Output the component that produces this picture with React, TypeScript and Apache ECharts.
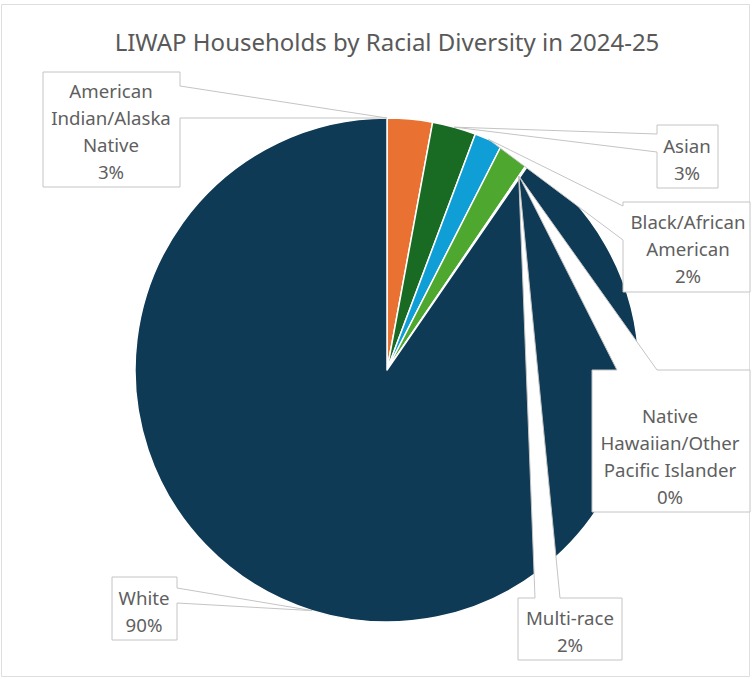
import React, { useEffect, useRef } from "react";
import * as echarts from "echarts";

const TITLE = "LIWAP Households by Racial Diversity in 2024-25";
const categories = [
  "American Indian/Alaska Native",
  "Asian",
  "Black/African American",
  "Multi-race",
  "Native Hawaiian/Other Pacific Islander",
  "White",
];
const values = [2.9, 2.8, 1.8, 2.0, 0.1, 90.4];
const labelLines = [
  ["American", "Indian/Alaska", "Native"],
  ["Asian"],
  ["Black/African", "American"],
  ["Multi-race"],
  ["Native", "Hawaiian/Other", "Pacific Islander"],
  ["White"],
];
const sliceColors = ["#E97132", "#196B24", "#0F9ED5", "#4EA72E", "#A02B93", "#0E3A55"];

// callout layout (box x, y, w, h; wedge side & base; tip anchor)
const calloutLayout = [
  { box: [43, 72, 137, 115], side: "right", base: [86, 118], tip: "start", tipR: 1.0, tx: 111, ty: 76.5 },
  { box: [657, 125, 61, 63], side: "left", base: [134, 152], tip: "mid", tipR: 1.0, tx: 687, ty: 131.5 },
  { box: [623, 202, 127, 90], side: "left", base: [206, 240], tip: "mid", tipR: 1.0, tx: 688, ty: 207.5 },
  { box: [518, 598, 104, 62], side: "top", base: [535, 560], tip: "end", tipR: 0.93, tx: 570, ty: 603.5 },
  { box: [592, 370, 158, 142], side: "top", base: [617, 657], tip: "mid", tipR: 0.93, tx: 670, ty: 401.5 },
  { box: [112, 577, 65, 63], side: "right", base: [588, 603], tip: "mid", tipR: 1.0, tx: 144, ty: 583.5 },
];

const CENTER: [number, number] = [387, 370];
const RADIUS = 252;
const FONT = '"Noto Sans", "Open Sans", sans-serif';

export default function App() {
  const ref = useRef<HTMLDivElement>(null);
  useEffect(() => {
    if (!ref.current) return;
    const chart = echarts.init(ref.current, undefined, { renderer: "svg" });
    const total = values.reduce((a, b) => a + b, 0);
    chart.setOption({
      animation: false,
      backgroundColor: "#ffffff",
      title: {
        text: TITLE,
        left: 382,
        top: 24,
        textAlign: "center",
        textStyle: { fontFamily: FONT, fontSize: 24, fontWeight: "normal", color: "#595959" },
      },
      series: [
        {
          type: "pie",
          center: CENTER,
          radius: RADIUS,
          startAngle: 90,
          clockwise: true,
          avoidLabelOverlap: false,
          label: { show: false },
          labelLine: { show: false },
          emphasis: { disabled: true },
          itemStyle: { borderColor: "#ffffff", borderWidth: 1.5 },
          data: categories.map((c, i) => ({ name: c, value: values[i], itemStyle: { color: sliceColors[i] } })),
        },
      ],
    });

    // read slice geometry from the library's own pie layout
    let layouts: any[] = [];
    try {
      const data = (chart as any).getModel().getSeriesByIndex(0).getData();
      layouts = categories.map((_, i) => data.getItemLayout(i));
    } catch (e) {
      layouts = [];
    }
    if (!layouts.length || !layouts[0]) {
      let a = -Math.PI / 2;
      layouts = values.map((v) => {
        const s = a;
        a += (v / total) * Math.PI * 2;
        return { cx: CENTER[0], cy: CENTER[1], r: RADIUS, startAngle: s, endAngle: a };
      });
    }

    const elements: any[] = [
      {
        type: "rect",
        z: 0,
        shape: { x: 1.5, y: 4.5, width: 748, height: 672 },
        style: { fill: "none", stroke: "#dedede", lineWidth: 1 },
        silent: true,
      },
    ];
    calloutLayout.forEach((cl, i) => {
      const L = layouts[i];
      const ang = cl.tip === "start" ? L.startAngle : cl.tip === "end" ? L.endAngle : (L.startAngle + L.endAngle) / 2;
      const tip = [L.cx + L.r * cl.tipR * Math.cos(ang), L.cy + L.r * cl.tipR * Math.sin(ang)];
      const [x, y, w, h] = cl.box;
      const [b1, b2] = cl.base;
      let pts: number[][];
      if (cl.side === "right") {
        pts = [[x, y], [x + w, y], [x + w, b1], tip, [x + w, b2], [x + w, y + h], [x, y + h]];
      } else if (cl.side === "left") {
        pts = [[x, y], [x + w, y], [x + w, y + h], [x, y + h], [x, b2], tip, [x, b1]];
      } else {
        pts = [[x, y], [b1, y], tip, [b2, y], [x + w, y], [x + w, y + h], [x, y + h]];
      }
      const pct = Math.round((values[i] / total) * 100) + "%";
      elements.push({
        type: "polygon",
        z: 100,
        silent: true,
        shape: { points: pts },
        style: { fill: "#ffffff", stroke: "#c4c4c4", lineWidth: 1 },
      });
      elements.push({
        type: "text",
        z: 101,
        silent: true,
        x: cl.tx,
        y: cl.ty,
        style: {
          text: [...labelLines[i], pct].join("\n"),
          align: "center",
          verticalAlign: "top",
          lineHeight: 27,
          fontFamily: FONT,
          fontSize: 18.67,
          fill: "#5f5f5f",
        },
      });
    });
    chart.setOption({ graphic: { elements } });

    return () => chart.dispose();
  }, []);
  return (
    <div
      ref={ref}
      style={{ position: "absolute", left: 0, top: 0, width: 752, height: 679, background: "#fff" }}
    />
  );
}
